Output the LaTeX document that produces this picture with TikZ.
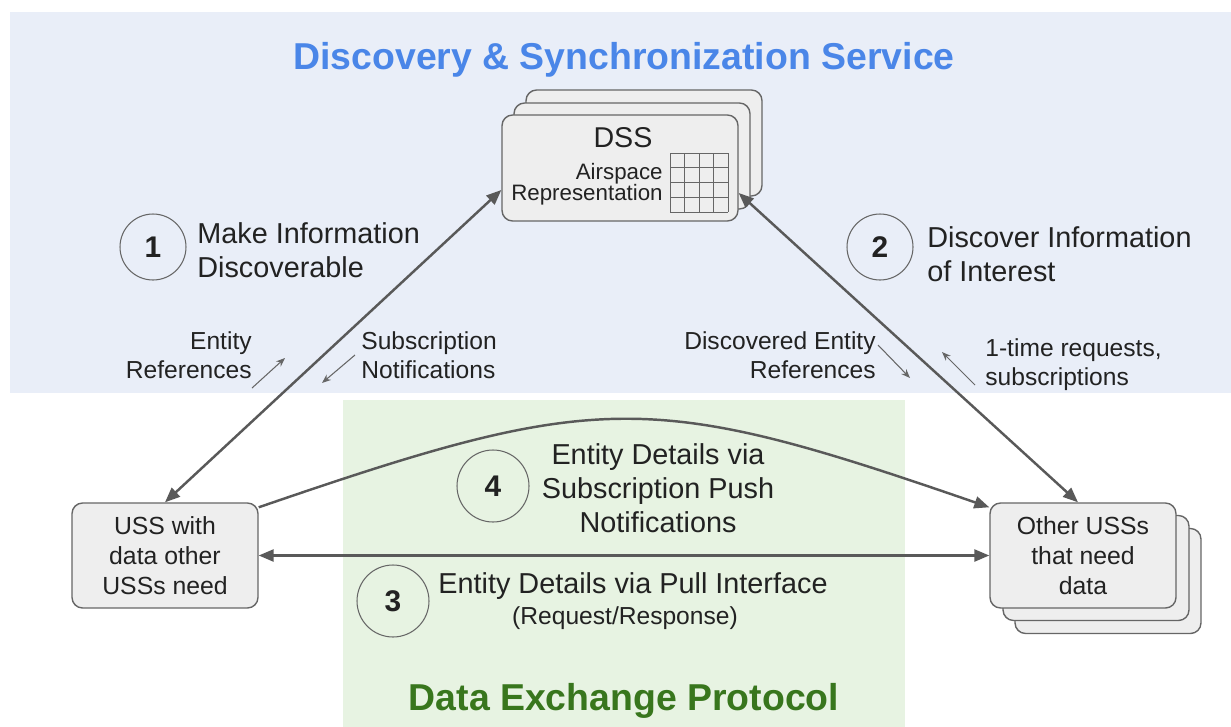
\documentclass[tikz,border=0pt]{standalone}
\usepackage{fontspec}
\setmainfont{Liberation Sans}
\usetikzlibrary{positioning,arrows.meta}
\definecolor{dssblue}{HTML}{4A86E8}
\definecolor{dxpgreen}{HTML}{38761D}
\definecolor{bluebg}{HTML}{E9EEF8}
\definecolor{greenbg}{HTML}{E7F3E2}
\definecolor{boxfill}{HTML}{EEEEEE}
\definecolor{boxline}{HTML}{666666}
\definecolor{arrowgray}{HTML}{595959}
\definecolor{txtgray}{HTML}{222222}

\begin{document}
\begin{tikzpicture}[
        x=0.02cm, y=-0.02cm,
        every node/.style={font=\fontsize{14}{16.4}\selectfont, text=txtgray, inner sep=0pt},
        box/.style={rectangle, rounded corners=6pt, draw=boxline, line width=0.8pt, fill=boxfill, minimum width=3.72cm, minimum height=2.1cm, align=center, font=\fontsize{14.1}{17}\selectfont},
        dssbox/.style={box, minimum width=4.72cm, minimum height=2.12cm},
        numcircle/.style={circle, draw=boxline, line width=0.6pt, minimum size=1.32cm, font=\fontsize{17}{17}\selectfont\bfseries},
        big/.style={font=\fontsize{16.4}{19.3}\selectfont},
        heading/.style={font=\fontsize{21.3}{24}\selectfont\bfseries},
        arrow/.style={{Triangle[length=0.3cm,width=0.24cm]}-{Triangle[length=0.3cm,width=0.24cm]}, line width=1.4pt, draw=arrowgray},
        onearrow/.style={-{Triangle[length=0.3cm,width=0.24cm]}, line width=1.4pt, draw=arrowgray},
        hint/.style={-{Stealth[length=0.18cm,width=0.14cm]}, line width=0.6pt, draw=boxline}
    ]
    \useasboundingbox (0,0) rectangle (1231,727);
    % Areas
    \fill[bluebg] (10,12) rectangle (1231,393);
    \fill[greenbg] (343,400) rectangle (905,727);
    \node[heading, text=dssblue] (dsstitle) at (624,60) {Discovery \& Synchronization Service};
    \node[heading, text=dxpgreen] (dxptitle) at (624,701) {Data Exchange Protocol};
    % Nodes
    \node[dssbox] (dssback) at (644,143) {};
    \node[dssbox] (dssmid) at (632,156) {};
    \node[dssbox] (dss) at (620,168) {};
    \node[font=\fontsize{16.3}{18}\selectfont] (dsslabel) at (623,138) {DSS};
    \node[anchor=east, align=right, font=\fontsize{12.7}{11.9}\selectfont] (airspace) at (663,184) {Airspace\\Representation};
    \foreach \i in {0,...,4} {
        \draw[boxline, line width=0.5pt] (670+14.5*\i,153) -- (670+14.5*\i,212);
        \draw[boxline, line width=0.5pt] (670,153+14.75*\i) -- (728,153+14.75*\i);
    }
    \node[box] (lbox) at (165,555.5) {USS with\\data other\\USSs need};
    \node[box] (rboxback) at (1108,581) {};
    \node[box] (rboxmid) at (1096,568) {};
    \node[box] (rbox) at (1083,555.5) {Other USSs\\that need\\data};
    \node[numcircle] (one) at (153,247) {1};
    \node[big, anchor=west, align=left] (onetext) at (197,250) {Make Information\\Discoverable};
    \node[numcircle] (two) at (880,247) {2};
    \node[big, anchor=west, align=left] (twotext) at (927,254) {Discover Information\\of Interest};
    \node[numcircle, minimum size=1.44cm] (four) at (493,486) {4};
    \node[big, align=center] (fourtext) at (658,488) {Entity Details via\\Subscription Push\\Notifications};
    \node[numcircle, minimum size=1.44cm] (three) at (393,601) {3};
    \node[big] (threetext) at (633,586) {Entity Details via Pull Interface};
    \node (threesub) at (625,618) {(Request/Response)};
    \node[anchor=east, align=right] (entref) at (252,355) {Entity\\References};
    \node[anchor=west, align=left] (subnote) at (361,355) {Subscription\\Notifications};
    \node[anchor=east, align=right] (discref) at (876,355) {Discovered Entity\\References};
    \node[anchor=west, align=left] (requests) at (985,365) {1-time requests,\\subscriptions};
    % Hint arrows
    \coordinate (h1a) at (252,388); \coordinate (h1b) at (285,358);
    \coordinate (h2a) at (355,355); \coordinate (h2b) at (322,383);
    \coordinate (h3a) at (878,345); \coordinate (h3b) at (910,378);
    \coordinate (h4a) at (975,385); \coordinate (h4b) at (942,352);
    \draw[hint] (h1a) -- (h1b);
    \draw[hint] (h2a) -- (h2b);
    \draw[hint] (h3a) -- (h3b);
    \draw[hint] (h4a) -- (h4b);
    % Arrows
    \draw[arrow] (lbox.north) -- ([yshift=-0.44cm]dss.west);
    \draw[arrow] ([yshift=-0.5cm]dss.east) -- ([xshift=-0.1cm]rbox.north);
    \draw[arrow] (lbox.east) -- (rbox.west);
    \draw[onearrow] ([yshift=-0.1cm]lbox.north east) .. controls (600,390) and (650,390) .. ([yshift=-0.1cm]rbox.north west);
\end{tikzpicture}
\end{document}
